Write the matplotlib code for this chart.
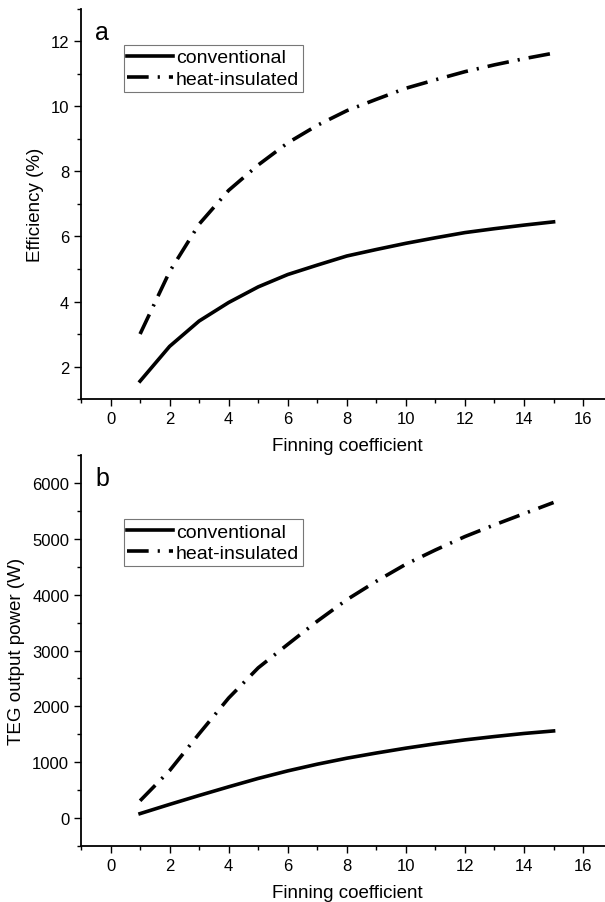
import numpy as np
import matplotlib.pyplot as plt
from matplotlib.ticker import MultipleLocator

plt.rcParams['font.family'] = ['Liberation Sans', 'DejaVu Sans']

fin = [1, 2, 3, 4, 5, 6, 7, 8, 9, 10, 11, 12, 13, 14, 15]
eff_conv = [1.55, 2.62, 3.4, 3.97, 4.45, 4.83, 5.12, 5.4, 5.6, 5.79, 5.96, 6.12, 6.24, 6.35, 6.45]
eff_ins = [3.0, 4.92, 6.38, 7.42, 8.2, 8.88, 9.42, 9.87, 10.22, 10.56, 10.82, 11.07, 11.28, 11.47, 11.64]
pow_conv = [80, 245, 405, 560, 710, 845, 965, 1072, 1165, 1252, 1330, 1400, 1460, 1515, 1560]
pow_ins = [310, 850, 1510, 2150, 2690, 3110, 3525, 3910, 4240, 4545, 4800, 5040, 5250, 5450, 5650]

fig = plt.figure(figsize=(6.05, 9.03), dpi=100)
ax1 = fig.add_axes([0.1339, 0.557, 0.8787, 0.432])
ax2 = fig.add_axes([0.1339, 0.062, 0.8787, 0.433])

dashdot = (0, (6, 2.5, 0.6, 2.5))

def style(ax, ylabel, ymajor, yminor, letter, legtop):
    for s in ['top', 'right']:
        ax.spines[s].set_visible(False)
    for s in ['left', 'bottom']:
        ax.spines[s].set_linewidth(1.3)
    ax.set_xlim(-1, 17)
    ax.xaxis.set_major_locator(MultipleLocator(2))
    ax.xaxis.set_minor_locator(MultipleLocator(1))
    ax.yaxis.set_major_locator(MultipleLocator(ymajor))
    ax.yaxis.set_minor_locator(MultipleLocator(yminor))
    ax.tick_params(which='major', direction='out', length=5, width=1, labelsize=12)
    ax.tick_params(which='minor', direction='out', length=3, width=1)
    ax.set_xlabel('Finning coefficient', fontsize=13.5, labelpad=8)
    ax.set_ylabel(ylabel, fontsize=13.5, labelpad=5)
    ax.text(0.027, 0.94, letter, transform=ax.transAxes, fontsize=18, va='center')
    leg = ax.legend(loc='upper left', bbox_to_anchor=(0.08, legtop), fontsize=14,
                    handlelength=2.35, handletextpad=0.15, borderpad=0.2,
                    labelspacing=0.2, borderaxespad=0, fancybox=False)
    leg.get_frame().set_edgecolor('#555555')
    leg.get_frame().set_linewidth(0.8)

ax1.plot(fin, eff_conv, color='black', lw=2.6, label='conventional')
ax1.plot(fin, eff_ins, color='black', lw=2.6, ls=dashdot, label='heat-insulated')
ax1.set_ylim(1, 13)
style(ax1, 'Efficiency (%)', 2, 1, 'a', 0.908)

ax2.plot(fin, pow_conv, color='black', lw=2.6, label='conventional')
ax2.plot(fin, pow_ins, color='black', lw=2.6, ls=dashdot, label='heat-insulated')
ax2.set_ylim(-500, 6500)
style(ax2, 'TEG output power (W)', 1000, 500, 'b', 0.836)

fig.savefig('out.png', dpi=100)
